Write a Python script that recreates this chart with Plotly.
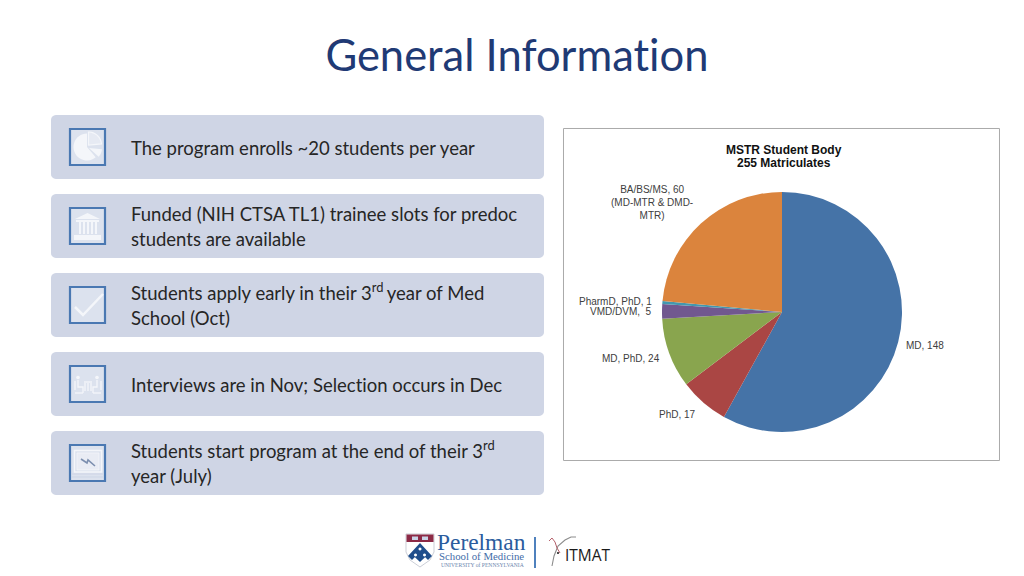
import math
import plotly.graph_objects as go

W, H = 1024, 576
slice_names = ["MD", "PhD", "MD, PhD", "VMD/DVM", "PharmD, PhD", "BA/BS/MS"]
slice_values = [148, 17, 24, 5, 1, 60]
slice_colors = ["#4573A7", "#AA4644", "#89A54E", "#71588F", "#4298AF", "#DB843D"]
pie_labels = ["MD, 148", "PhD, 17", "MD, PhD, 24", "BA/BS/MS, 60<br>(MD-MTR &amp; DMD-<br>MTR)"]
pie_label_xy = [(925, 345), (677, 414), (631, 358), (652, 202)]
pie_right_labels = ["PharmD, PhD, 1", "VMD/DVM,  5"]
pie_right_xy = [(654, 301), (654, 311)]
chart_title = ["MSTR Student Body", "255 Matriculates"]
title = "General Information"
panel_tops = [115, 194, 273, 352, 431]
panel_texts = [
    ["The program enrolls ~20 students per year"],
    ["Funded (NIH CTSA TL1) trainee slots for predoc", "students are available"],
    ["Students apply early in their 3<sup>rd </sup>year of Med", "School (Oct)"],
    ["Interviews are in Nov; Selection occurs in Dec"],
    ["Students start program at the end of their 3<sup>rd</sup>", "year (July)"],
]


def X(x):
    return x / W


def Y(y):
    return 1 - y / H


def path(points, close=True):
    s = "M " + " L ".join(f"{X(a):.5f},{Y(b):.5f}" for a, b in points)
    return s + (" Z" if close else "")


def rrect(x0, y0, x1, y1, r):
    pts = []
    for cx, cy, a0 in [(x1 - r, y0 + r, -90), (x1 - r, y1 - r, 0), (x0 + r, y1 - r, 90), (x0 + r, y0 + r, 180)]:
        for i in range(7):
            a = math.radians(a0 + 15 * i)
            pts.append((cx + r * math.cos(a), cy + r * math.sin(a)))
    return path(pts)


shapes = []


def add_path(d, fill="rgba(0,0,0,0)", line=None, width=0):
    shapes.append(dict(type="path", xref="paper", yref="paper", path=d, fillcolor=fill,
                       line=dict(color=line or "rgba(0,0,0,0)", width=width), layer="below"))


def wedge(cx, cy, r, a0, a1):
    pts = [(cx, cy)]
    for i in range(25):
        a = math.radians(a0 + (a1 - a0) * i / 24)
        pts.append((cx + r * math.sin(a), cy - r * math.cos(a)))
    return path(pts)


def disc(cx, cy, r):
    return path([(cx + r * math.cos(math.radians(a)), cy + r * math.sin(math.radians(a))) for a in range(0, 360, 30)])


PANEL = "#CFD5E5"
ICON_BG = "#DCE2EE"
ICON_LINE = "#4A78B2"
MARK = "#F4F6FA"

for top in panel_tops:
    add_path(rrect(51, top, 544, top + 64, 5), fill=PANEL)
    add_path(path([(70, top + 14), (105, top + 14), (105, top + 50), (70, top + 50)]),
             fill=ICON_BG, line=ICON_LINE, width=2.2)

# icon 1: pie
add_path(wedge(87, 147, 13.5, 140, 360), fill=MARK)
add_path(wedge(88.5, 145, 13, 0, 85), line=MARK, width=1.2, fill="#E6EAF3")
add_path(wedge(89, 148, 13, 95, 132), fill=MARK)

# icon 2: bank
add_path(path([(75, 219), (87.5, 213), (100, 219)]), fill=MARK)
for cx in (79, 83, 87, 91, 95):
    add_path(path([(cx, 222), (cx + 2, 222), (cx + 2, 234), (cx, 234)]), fill=MARK)
add_path(path([(76, 220), (99, 220), (99, 222), (76, 222)]), fill=MARK)
add_path(path([(74, 235), (101, 235), (101, 240), (74, 240)]), fill=MARK)

# icon 3: tick
add_path(path([(75, 307), (83, 315), (103, 294)], close=False), line=MARK, width=2.5)

# icon 4: meeting
for pts in ([(84, 382), (92, 382)], [(85, 383), (85, 391)], [(91, 383), (91, 391)], [(88, 383), (88, 391)],
            [(78, 380), (78, 387), (83, 387), (83, 393)], [(97, 380), (97, 387), (93, 387), (93, 393)],
            [(75, 393), (83, 393)], [(93, 393), (101, 393)], [(75, 381), (75, 390)], [(101, 381), (101, 390)]):
    add_path(path(pts, close=False), line=MARK, width=1.3)
add_path(disc(78, 377.5, 1.8), fill=MARK)
add_path(disc(97, 377.5, 1.8), fill=MARK)

# icon 5: screen
add_path(path([(74.5, 450.5), (101.5, 450.5), (101.5, 472), (74.5, 472)]), line=MARK, width=1.5)
add_path(path([(77, 453), (99, 453), (99, 470), (77, 470)]), fill="#E9ECF4", line=MARK, width=0.8)
add_path(path([(81, 459), (87, 463), (88, 460), (95, 466)], close=False), line="#7C8FAF", width=1.6)
for gy in (474, 477):
    add_path(path([(72, gy), (103, gy)], close=False), line="#C6CEE0", width=0.6)

# chart frame
add_path(path([(563.5, 128.5), (999.5, 128.5), (999.5, 460.5), (563.5, 460.5)]), fill="#FFFFFF",
         line="#ABABAB", width=1)

# footer logo
add_path(path([(406, 534), (434, 534), (434, 552), (430, 560), (420, 567), (410, 560), (406, 552)]),
         fill="#FFFFFF", line="#B5B9C4", width=0.7)
add_path(path([(406.5, 534.5), (433.5, 534.5), (433.5, 542), (406.5, 542)]), fill="#8C2A46")
add_path(path([(412, 536.5), (418, 536.5), (418, 540), (412, 540)]), fill="#C9D3E6")
add_path(path([(422, 536.5), (428, 536.5), (428, 540), (422, 540)]), fill="#C9D3E6")
add_path(path([(420, 543), (432, 556), (428, 560), (420, 552), (412, 560), (408, 556)]), fill="#1F4E8C")
add_path(path([(420, 546), (428, 554.5), (420, 562), (412, 554.5)]), fill="#1F4E8C")
for dx, dy in [(420, 549), (415.5, 555), (424.5, 555)]:
    add_path(disc(dx, dy, 1.5), fill="#FFFFFF")
add_path(path([(535, 537), (535, 568)], close=False), line="#4F81BD", width=2)
add_path(path([(552, 566), (554, 556), (558, 546), (565, 540), (571, 537), (576, 537)], close=False),
         line="#8C8C8C", width=1.1)
add_path(path([(549, 541), (552, 538), (555, 542), (557, 548), (560, 553)], close=False),
         line="#B5606A", width=1)
add_path(disc(558, 553, 1.1), fill="#333333")

fig = go.Figure(go.Pie(
    values=slice_values, labels=slice_names, sort=False, direction="clockwise", rotation=0,
    marker=dict(colors=slice_colors, line=dict(width=0)), textinfo="none", showlegend=False,
    hoverinfo="label+value",
    domain=dict(x=[X(662), X(902)], y=[Y(432), Y(192)]),
))

ann = []


def text(x, y, t, size, color, font="Lato", anchor="left"):
    ann.append(dict(xref="paper", yref="paper", x=X(x), y=Y(y), text=t, showarrow=False, xanchor=anchor,
                    yanchor="middle", align=anchor,
                    font=dict(family=font, size=size, color=color)))


BODY = 18.5
text(517, 54, title, 43.5, "#1F3A75", anchor="center")
for top, lines in zip(panel_tops, panel_texts):
    mid = top + 33
    if len(lines) == 1:
        text(129, mid, lines[0], BODY, "#262626")
    else:
        shift = 2 if "<sup>" in lines[0] else 0
        text(129, mid - 12.5 - shift, lines[0], BODY, "#262626")
        text(129, mid + 11.7, lines[1], BODY, "#262626")

text(784, 150, "<b>" + chart_title[0] + "</b>", 12, "#111111", "Liberation Sans", "center")
text(784, 163, "<b>" + chart_title[1] + "</b>", 12, "#111111", "Liberation Sans", "center")
for (x, y), lab in zip(pie_label_xy, pie_labels):
    text(x, y, lab, 10, "#404040", "Liberation Sans", "center")
for (x, y), lab in zip(pie_right_xy, pie_right_labels):
    text(x, y, lab, 10, "#404040", "Liberation Sans", "right")

text(481.5, 542, "Perelman", 23.4, "#2B5C9E", "Liberation Serif", "center")
text(481.5, 556, "School of Medicine", 10.8, "#3F6CA8", "Liberation Serif", "center")
text(482, 565, "UNIVERSITY of PENNSYLVANIA", 5.6, "#6C86AE", "Liberation Serif", "center")
text(588, 555, "ITMAT", 15.5, "#1A1A1A", "Open Sans", "center")

fig.update_layout(width=W, height=H, margin=dict(l=0, r=0, t=0, b=0), paper_bgcolor="#FFFFFF",
                  plot_bgcolor="#FFFFFF", shapes=shapes, annotations=ann)
fig.write_html("out.html", config=dict(displayModeBar=False),
               post_script="document.body.style.margin='0';"
                           "var s=document.createElement('style');"
                           "s.textContent='text,tspan{font-variant-ligatures:none !important;"
                           "font-feature-settings:\"liga\" 0,\"clig\" 0 !important}';"
                           "document.head.appendChild(s);")
